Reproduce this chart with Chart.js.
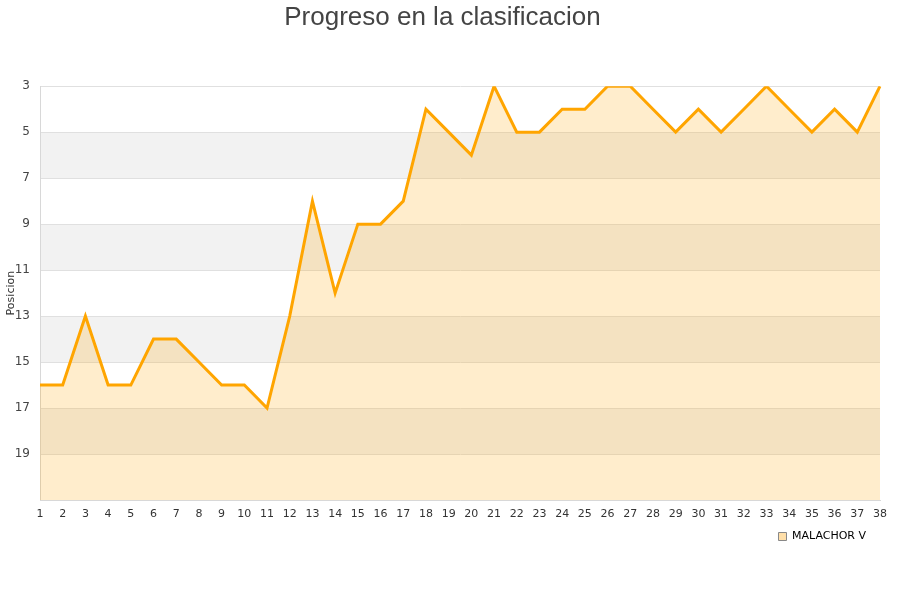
<!DOCTYPE html>
<html lang="es">
<head>
    <meta charset="UTF-8">
    <title>Progreso en la clasificacion</title>
    <style>
        * { margin: 0; padding: 0; box-sizing: border-box; }
        body { background: #fff; font-family: 'Liberation Sans', Arial, sans-serif; }
        .wrap { width: 900px; height: 600px; position: relative; }
    </style>
    <script src="https://cdn.jsdelivr.net/npm/chart.js"></script>
</head>
<body>
    <div class="wrap">
        <canvas id="progressChart" width="900" height="600"></canvas>
    </div>
    <script>
        // Jornadas y posiciones
        const jornadas = ['1','2','3','4','5','6','7','8','9','10','11','12','13','14','15','16','17','18','19',
                          '20','21','22','23','24','25','26','27','28','29','30','31','32','33','34','35','36','37','38'];
        const posiciones = [16, 16, 13, 16, 16, 14, 14, 15, 16, 16, 17, 13, 8, 12, 9, 9, 8, 4, 5,
                            6, 3, 5, 5, 4, 4, 3, 3, 4, 5, 4, 5, 4, 3, 4, 5, 4, 5, 3];
        const equipo = 'MALACHOR V';
        const yMin = 3;
        const yMax = 21;
        const yStep = 2;

        // Grey bands behind the plot (every other 2-position band)
        const bandsPlugin = {
            id: 'bands',
            beforeDraw(chart) {
                const { ctx, chartArea, scales } = chart;
                const y = scales.y;
                ctx.save();
                ctx.fillStyle = '#f2f2f2';
                for (let v = yMin + yStep; v < yMax; v += yStep * 2) {
                    const top = y.getPixelForValue(v);
                    const bottom = y.getPixelForValue(Math.min(v + yStep, yMax));
                    ctx.fillRect(chartArea.left, top, chartArea.right - chartArea.left, bottom - top);
                }
                ctx.restore();
            }
        };

        const ctx = document.getElementById('progressChart').getContext('2d');
        new Chart(ctx, {
            type: 'line',
            data: {
                labels: jornadas,
                datasets: [{
                    label: equipo,
                    data: posiciones,
                    borderColor: '#FFA500',
                    backgroundColor: 'rgba(255, 165, 0, 0.2)',
                    borderWidth: 3,
                    pointRadius: 0,
                    pointHoverRadius: 0,
                    tension: 0,
                    fill: 'start'
                }]
            },
            options: {
                responsive: false,
                animation: false,
                layout: { padding: { left: 5, right: 20, top: 0, bottom: 48 } },
                plugins: {
                    title: {
                        display: true,
                        text: 'Progreso en la clasificacion',
                        color: '#444',
                        font: { family: "'Liberation Sans', Arial, sans-serif", size: 26, weight: 'normal' },
                        padding: { top: 2, bottom: 53 }
                    },
                    legend: {
                        position: 'bottom',
                        align: 'end',
                        labels: {
                            color: '#111',
                            boxWidth: 8,
                            boxHeight: 8,
                            padding: 14,
                            font: { family: "'DejaVu Sans', sans-serif", size: 11 },
                            generateLabels(chart) {
                                return [{
                                    text: equipo,
                                    fillStyle: 'rgba(255, 220, 160, 0.9)',
                                    strokeStyle: '#888',
                                    lineWidth: 1,
                                    datasetIndex: 0
                                }];
                            }
                        }
                    },
                    tooltip: { enabled: false }
                },
                scales: {
                    x: {
                        offset: false,
                        grid: { display: false, drawTicks: false },
                        border: { display: true, color: '#d8d8d8' },
                        ticks: {
                            color: '#333',
                            autoSkip: false,
                            maxRotation: 0,
                            padding: 8,
                            font: { family: "'DejaVu Sans', sans-serif", size: 11 }
                        },
                        afterFit(scale) { scale.height = 17; }
                    },
                    y: {
                        reverse: true,
                        min: yMin,
                        max: yMax,
                        grid: { color: '#e0e0e0', drawTicks: false },
                        border: { display: true, color: '#d8d8d8' },
                        title: {
                            display: true,
                            text: 'Posicion',
                            color: '#333',
                            padding: 0,
                            font: { family: "'DejaVu Sans', sans-serif", size: 11 }
                        },
                        ticks: {
                            stepSize: yStep,
                            color: '#444',
                            padding: 10,
                            font: { family: "'DejaVu Sans', sans-serif", size: 12 },
                            callback(value) { return value >= yMax ? '' : value; }
                        },
                        afterFit(scale) { scale.width = 35; }
                    }
                }
            },
            plugins: [bandsPlugin]
        });
    </script>
</body>
</html>
